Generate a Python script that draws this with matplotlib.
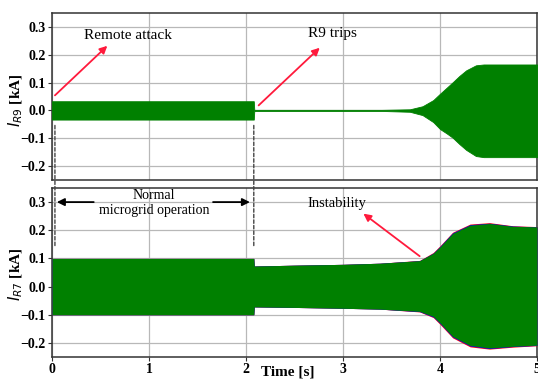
import matplotlib
matplotlib.use('Agg')
import matplotlib.pyplot as plt
from matplotlib.patches import ConnectionPatch

plt.rcParams['font.family'] = 'serif'
plt.rcParams['font.serif'] = ['Liberation Serif', 'DejaVu Serif']
plt.rcParams['mathtext.fontset'] = 'dejavusans'

# envelope of I_R9 (kA)
r9_t = [0, 2.08, 2.085, 3.4, 3.69, 3.82, 3.93, 4.0, 4.07, 4.13, 4.2, 4.27, 4.37, 4.45, 5.0]
r9_hi = [0.033, 0.033, 0.002, 0.002, 0.004, 0.015, 0.037, 0.060, 0.082, 0.101, 0.124, 0.144, 0.162, 0.165, 0.165]
r9_lo = [-0.033, -0.033, -0.002, -0.002, -0.005, -0.017, -0.042, -0.067, -0.083, -0.098, -0.121, -0.142, -0.164, -0.168, -0.168]

# envelope of I_R7 (kA)
r7_t = [0, 2.08, 2.085, 2.5, 3.0, 3.38, 3.79, 3.93, 4.0, 4.13, 4.31, 4.51, 4.75, 5.0]
r7_hi = [0.1, 0.1, 0.073, 0.076, 0.079, 0.083, 0.092, 0.118, 0.141, 0.189, 0.218, 0.224, 0.214, 0.212]
r7_lo = [-0.1, -0.1, -0.072, -0.074, -0.077, -0.080, -0.088, -0.106, -0.129, -0.177, -0.209, -0.218, -0.212, -0.208]
# other phases poking out of the green band
r7_red_hi = [0.1, 0.1, 0.073, 0.076, 0.079, 0.083, 0.093, 0.121, 0.145, 0.193, 0.222, 0.227, 0.216, 0.213]
r7_red_lo = [-0.1, -0.1, -0.072, -0.074, -0.077, -0.080, -0.090, -0.110, -0.134, -0.182, -0.214, -0.222, -0.215, -0.210]
r7_blue_hi = [0.1, 0.1, 0.073, 0.076, 0.079, 0.083, 0.092, 0.119, 0.143, 0.191, 0.220, 0.225, 0.215, 0.212]
r7_blue_lo = [-0.1, -0.1, -0.072, -0.074, -0.077, -0.080, -0.089, -0.108, -0.131, -0.179, -0.211, -0.220, -0.213, -0.209]

yticks = [-0.2, -0.1, 0.0, 0.1, 0.2, 0.3]
xticks = [0, 1, 2, 3, 4, 5]

fig = plt.figure(figsize=(5.38, 3.84), dpi=100)
ax1 = fig.add_axes([0.0967, 0.5313, 0.9015, 0.4349])
ax2 = fig.add_axes([0.0967, 0.0703, 0.9015, 0.4401], sharex=ax1)

red = '#ff1a3c'
grn = '#008000'

ax1.fill_between(r9_t, r9_lo, r9_hi, color=grn, lw=0.6, edgecolor=grn, zorder=3)
ax2.fill_between(r7_t, r7_red_lo, r7_red_hi, color='red', lw=0, zorder=3)
ax2.fill_between(r7_t, r7_blue_lo, r7_blue_hi, color='blue', lw=0, zorder=3)
ax2.fill_between(r7_t, r7_lo, r7_hi, color=grn, lw=0, zorder=3)

for ax in (ax1, ax2):
    ax.set_xlim(0, 5)
    ax.set_ylim(-0.25, 0.35)
    ax.set_yticks(yticks)
    ax.set_yticklabels([f'{v:.1f}'.replace('-', '\u2212') for v in yticks],
                       fontweight='bold', fontsize=10)
    ax.grid(True, color='#b8b8b8', lw=0.9)
    ax.set_axisbelow(True)
    ax.tick_params(length=3, pad=1.5, color='#333333')
    for s in ax.spines.values():
        s.set_color('#333333')
        s.set_linewidth(1.1)

ax1.tick_params(axis='x', labelbottom=False, length=0)
ax2.set_xticks(xticks)
ax2.set_xticklabels([str(v) for v in xticks], fontweight='bold', fontsize=10)

ax1.set_ylabel(r'$I_{R9}$ [kA]', fontsize=11, fontweight='bold')
ax2.set_ylabel(r'$I_{R7}$ [kA]', fontsize=11, fontweight='bold')
ax1.yaxis.set_label_coords(-0.056, 0.48)
ax2.yaxis.set_label_coords(-0.056, 0.49)
ax2.set_xlabel('Time [s]', fontsize=11, fontweight='bold')
ax2.xaxis.set_label_coords(0.487, -0.05)

# annotations
arr_red = dict(arrowstyle='-|>', color=red, lw=1.3, mutation_scale=11,
               shrinkA=0, shrinkB=0)
ax1.annotate('', xy=(0.57, 0.232), xytext=(0.03, 0.054), arrowprops=arr_red, zorder=5)
ax1.text(0.78, 0.268, 'Remote attack', fontsize=11, ha='center', va='center')
ax1.annotate('', xy=(2.76, 0.225), xytext=(2.13, 0.018), arrowprops=arr_red, zorder=5)
ax1.text(2.89, 0.275, 'R9 trips', fontsize=11, ha='center', va='center')

ax2.annotate('', xy=(3.21, 0.259), xytext=(3.79, 0.108), arrowprops=arr_red, zorder=5)
ax2.text(2.94, 0.296, 'Instability', fontsize=10.5, ha='center', va='center')

ax2.text(1.05, 0.295, 'Normal\nmicrogrid operation', fontsize=10, ha='center', va='center')
arr_blk = dict(arrowstyle='-|>', color='black', lw=1.3, mutation_scale=11,
               shrinkA=0, shrinkB=0)
ax2.annotate('', xy=(0.05, 0.3), xytext=(0.43, 0.3), arrowprops=arr_blk)
ax2.annotate('', xy=(2.04, 0.3), xytext=(1.66, 0.3), arrowprops=arr_blk)

for tx in (0.03, 2.08):
    con = ConnectionPatch(xyA=(tx, -0.054), coordsA=ax1.transData,
                          xyB=(tx, 0.14), coordsB=ax2.transData,
                          linestyle=(0, (2.5, 1.5)), color='#444444', lw=1.0)
    fig.add_artist(con)

fig.savefig('out.png', dpi=100)
